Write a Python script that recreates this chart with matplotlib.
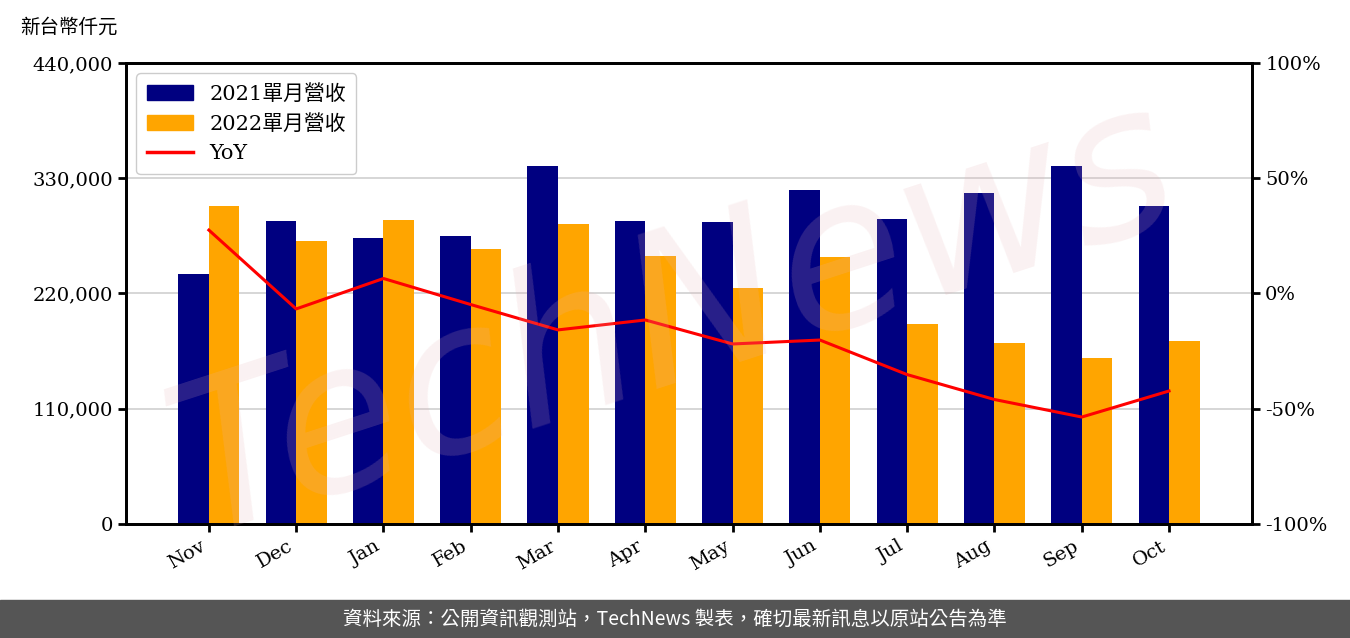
import matplotlib.pyplot as plt
import matplotlib.patches as mpatches
import numpy as np

plt.rcParams['font.family'] = ['DejaVu Serif', 'Noto Sans CJK TC']

months = ['Nov', 'Dec', 'Jan', 'Feb', 'Mar', 'Apr', 'May', 'Jun', 'Jul', 'Aug', 'Sep', 'Oct']
rev_2021 = [238600, 289200, 273000, 274900, 341700, 289200, 288200, 318800, 291100, 315900, 341700, 303500]
rev_2022 = [303500, 270100, 290100, 262500, 286300, 255800, 225200, 254800, 190900, 172700, 158400, 174700]
yoy = [27.5, -6.7, 6.5, -4.8, -15.8, -11.5, -21.9, -20.2, -35.2, -46.0, -53.6, -42.3]

fig = plt.figure(figsize=(13.5, 6.38), dpi=100)
ax = fig.add_axes([0.0933, 0.1787, 0.8341, 0.7226])
x = np.arange(len(months))
w = 0.35

# watermark
fig.text(0.5, 0.5, 'TechNews', fontsize=150, family='DejaVu Sans', style='italic',
         color='#e8b4b8', alpha=0.18, rotation=18, ha='center', va='center', zorder=0)

ax.set_axisbelow(True)
ax.yaxis.grid(True, color='#d0d0d0', lw=1.2)
ax.bar(x - w/2, rev_2021, w, color='#000080', label='2021單月營收', zorder=2)
ax.bar(x + w/2, rev_2022, w, color='#ffa500', label='2022單月營收', zorder=2)
ax.set_ylim(0, 440000)
ax.set_yticks([0, 110000, 220000, 330000, 440000])
ax.set_yticklabels(['0', '110,000', '220,000', '330,000', '440,000'])
ax.set_xlim(-0.95, 11.95)
ax.set_xticks(x)
ax.set_xticklabels(months, rotation=30, ha='right')
ax.tick_params(labelsize=14, length=6, width=2)
ax.patch.set_alpha(0)

ax2 = ax.twinx()
ax2.plot(x, yoy, color='red', lw=2.2)
ax2.set_ylim(-100, 100)
ax2.set_yticks([-100, -50, 0, 50, 100])
ax2.set_yticklabels(['-100%', '-50%', '0%', '50%', '100%'])
ax2.tick_params(labelsize=14, length=6, width=2)

for a in (ax, ax2):
    for s in a.spines.values():
        s.set_linewidth(2)

handles = [mpatches.Patch(color='#000080', label='2021單月營收'),
           mpatches.Patch(color='#ffa500', label='2022單月營收'),
           plt.Line2D([0], [0], color='red', lw=2.5, label='YoY')]
ax2.legend(handles=handles, loc='upper left', fontsize=15, framealpha=1,
           edgecolor='#cccccc', borderpad=0.5, handlelength=2.2)

fig.text(0.015, 0.957, '新台幣仟元', fontsize=14, ha='left', va='center',
         family=['Noto Sans CJK TC'])

fig.patches.append(mpatches.Rectangle((0, 0), 1, 38/638, transform=fig.transFigure,
                                      color='#555555', zorder=0))
fig.text(0.5, 19/638, '資料來源：公開資訊觀測站，TechNews 製表，確切最新訊息以原站公告為準',
         color='white', fontsize=14, ha='center', va='center', family=['Noto Sans CJK TC'])

fig.savefig('out.png', dpi=100)
